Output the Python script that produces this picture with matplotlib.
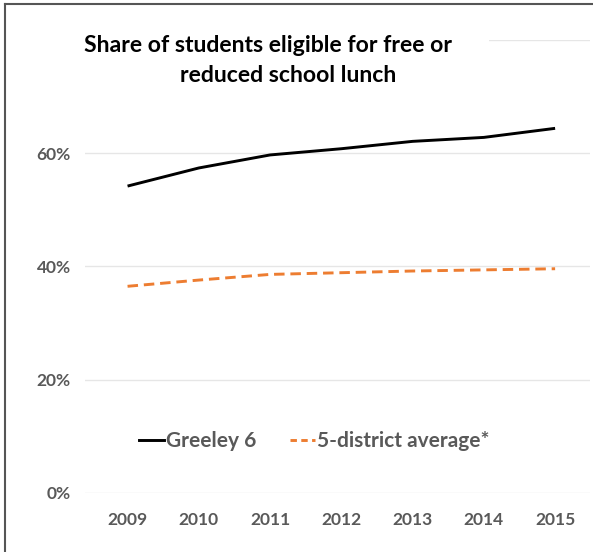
import matplotlib
matplotlib.use("Agg")
import matplotlib.pyplot as plt
from matplotlib.lines import Line2D

# data
years = ["2009", "2010", "2011", "2012", "2013", "2014", "2015"]
greeley = [54.2, 57.4, 59.7, 60.8, 62.1, 62.8, 64.4]
district_avg = [36.5, 37.6, 38.6, 38.9, 39.2, 39.4, 39.6]
y_ticks = [0, 20, 40, 60, 80]
y_labels = ["0%", "20%", "40%", "60%", ""]

plt.rcParams['font.family'] = ['Lato', 'DejaVu Sans']

fig = plt.figure(figsize=(5.93, 5.52), dpi=100)
ax = fig.add_axes([0.143, 0.107, 0.852, 0.8205])

x = list(range(len(years)))
ax.plot(x, greeley, color="black", lw=2.1, solid_capstyle="butt", label="Greeley 6")
ax.plot(x, district_avg, color="#ED7D31", lw=2.1, ls=(0, (3.6, 2.0)), label="5-district average*")

ax.set_xlim(-0.6, 6.49)
ax.set_ylim(0, 80)
ax.set_yticks(y_ticks)
ax.set_yticklabels(y_labels)
ax.set_xticks(x)
ax.set_xticklabels(years)
ax.grid(axis="y", color="#e6e6e6", lw=1)
ax.set_axisbelow(True)
for s in ax.spines.values():
    s.set_visible(False)
ax.tick_params(length=0, labelsize=12.5, labelcolor="#595959")
ax.tick_params(axis="x", pad=14)
ax.tick_params(axis="y", pad=10)
for t in ax.get_xticklabels() + ax.get_yticklabels():
    t.set_fontweight("bold")

# title box hides the top gridline like in the original
fig.patches.append(plt.Rectangle((0.125, 0.84), 0.7, 0.13, transform=fig.transFigure,
                                 facecolor="white", edgecolor="none", zorder=2))
fig.text(268 / 593, 1 - 46 / 552, "Share of students eligible for free or",
         ha="center", va="center", fontsize=16.6, fontweight="bold", zorder=3)
fig.text(288 / 593, 1 - 76 / 552, "reduced school lunch",
         ha="center", va="center", fontsize=16.6, fontweight="bold", zorder=3)

handles = [Line2D([], [], color="black", lw=2.1),
           Line2D([], [], color="#ED7D31", lw=2.1, ls=(0, (2.2, 1.5)))]
leg = ax.legend(handles, ["Greeley 6", "5-district average*"], loc="center",
                bbox_to_anchor=(314 / 593, 1 - 441 / 552), bbox_transform=fig.transFigure,
                ncol=2, frameon=False, handlelength=1.2, handletextpad=0.1,
                columnspacing=1.6, prop={"size": 15, "weight": "bold"})
for t in leg.get_texts():
    t.set_color("#595959")

# outer frame (left and top edges of the screenshot)
fig.add_artist(Line2D([5 / 593, 5 / 593], [0, 1 - 4 / 552], transform=fig.transFigure,
                      color="#555555", lw=1.5, zorder=5))
fig.add_artist(Line2D([5 / 593, 1], [1 - 4 / 552, 1 - 4 / 552], transform=fig.transFigure,
                      color="#555555", lw=1.5, zorder=5))

fig.savefig("out.png", dpi=100)
